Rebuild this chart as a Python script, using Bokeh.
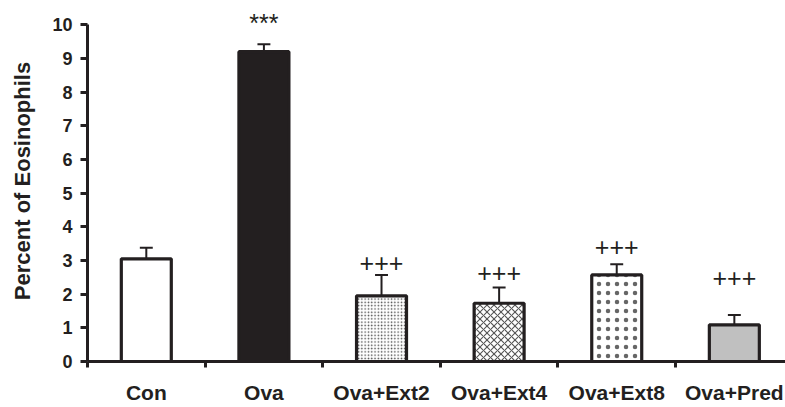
from bokeh.plotting import figure
from bokeh.models import ColumnDataSource, FixedTicker, Range1d
from bokeh.core.properties import value
from bokeh.embed import file_html
from bokeh.resources import INLINE

categories = ["Con", "Ova", "Ova+Ext2", "Ova+Ext4", "Ova+Ext8", "Ova+Pred"]
means = [3.05, 9.2, 1.95, 1.73, 2.57, 1.09]
errors = [0.33, 0.22, 0.62, 0.47, 0.32, 0.29]
annotations = ["", "***", "+++", "+++", "+++", "+++"]
annot_y = [0, 10.05, 2.93, 2.63, 3.41, 2.48]
y_ticks = [0, 1, 2, 3, 4, 5, 6, 7, 8, 9, 10]

INK = "#231f20"
xs = [i + 0.5 for i in range(len(categories))]

p = figure(width=785, height=407, output_backend="svg", toolbar_location=None,
           x_range=Range1d(0, 5.935), y_range=Range1d(0, 10.72),
           min_border_left=87, min_border_right=0, min_border_top=0,
           min_border_bottom=46)
p.outline_line_color = None
p.grid.visible = False
p.background_fill_color = "white"

# error bars (upper only)
tops = [m + e for m, e in zip(means, errors)]
p.segment(x0=xs, y0=means, x1=xs, y1=tops, line_color=INK, line_width=2)
p.segment(x0=[x - 0.055 for x in xs], y0=tops, x1=[x + 0.055 for x in xs], y1=tops,
          line_color=INK, line_width=2)

w = 0.425
styles = [
    dict(fill_color="white"),
    dict(fill_color=INK),
    dict(fill_color="white", hatch_pattern="dot", hatch_scale=3.3, hatch_weight=2.2, hatch_color="#4a4a4a"),
    dict(fill_color="white", hatch_pattern="diagonal_cross", hatch_scale=7, hatch_weight=1.1, hatch_color="#555555"),
    dict(fill_color="white", hatch_pattern="dot", hatch_scale=9, hatch_weight=1.2, hatch_color="#666666"),
    dict(fill_color="#c0c0c0"),
]
for x, m, st in zip(xs, means, styles):
    p.vbar(x=[x], top=[m], bottom=0, width=w, line_color=INK, line_width=3.2, **st)

src = ColumnDataSource(dict(x=xs, y=annot_y, t=annotations))
sizes = ["30px", "25px", "25px", "25px", "25px", "25px"]
src.data["s"] = sizes
p.text(x="x", y="y", text="t", source=src, text_align="center", text_baseline="middle",
       text_font=value("Liberation Sans"), text_font_size="s", text_color=INK)

# y axis
ya = p.yaxis[0]
ya.ticker = FixedTicker(ticks=y_ticks, minor_ticks=[])
ya.bounds = (0, 10)
ya.axis_line_width = 3
ya.axis_line_color = INK
ya.major_tick_line_width = 3
ya.major_tick_line_color = INK
ya.major_tick_out = 7
ya.major_tick_in = 0
ya.minor_tick_line_color = None
ya.major_label_text_font = "Liberation Sans"
ya.major_label_text_font_style = "bold"
ya.major_label_text_font_size = "18px"
ya.major_label_text_color = INK
ya.major_label_standoff = 8
ya.axis_label = "Percent of Eosinophils"
ya.axis_label_text_font = "Liberation Sans"
ya.axis_label_text_font_style = "bold"
ya.axis_label_text_font_size = "22px"
ya.axis_label_text_color = INK
ya.axis_label_standoff = 14

# x axis
xa = p.xaxis[0]
xa.ticker = FixedTicker(ticks=xs, minor_ticks=[0, 1, 2, 3, 4, 5])
xa.major_label_overrides = {x: c for x, c in zip(xs, categories)}
xa.axis_line_width = 3
xa.axis_line_color = INK
xa.major_tick_line_color = None
xa.major_tick_out = 0
xa.major_tick_in = 0
xa.minor_tick_line_color = INK
xa.minor_tick_line_width = 3
xa.minor_tick_out = 6
xa.minor_tick_in = 0
xa.major_label_text_font = "Liberation Sans"
xa.major_label_text_font_style = "bold"
xa.major_label_text_font_size = "21px"
xa.major_label_text_color = INK
xa.major_label_standoff = 13

open("out.html", "w").write(file_html(p, INLINE))
